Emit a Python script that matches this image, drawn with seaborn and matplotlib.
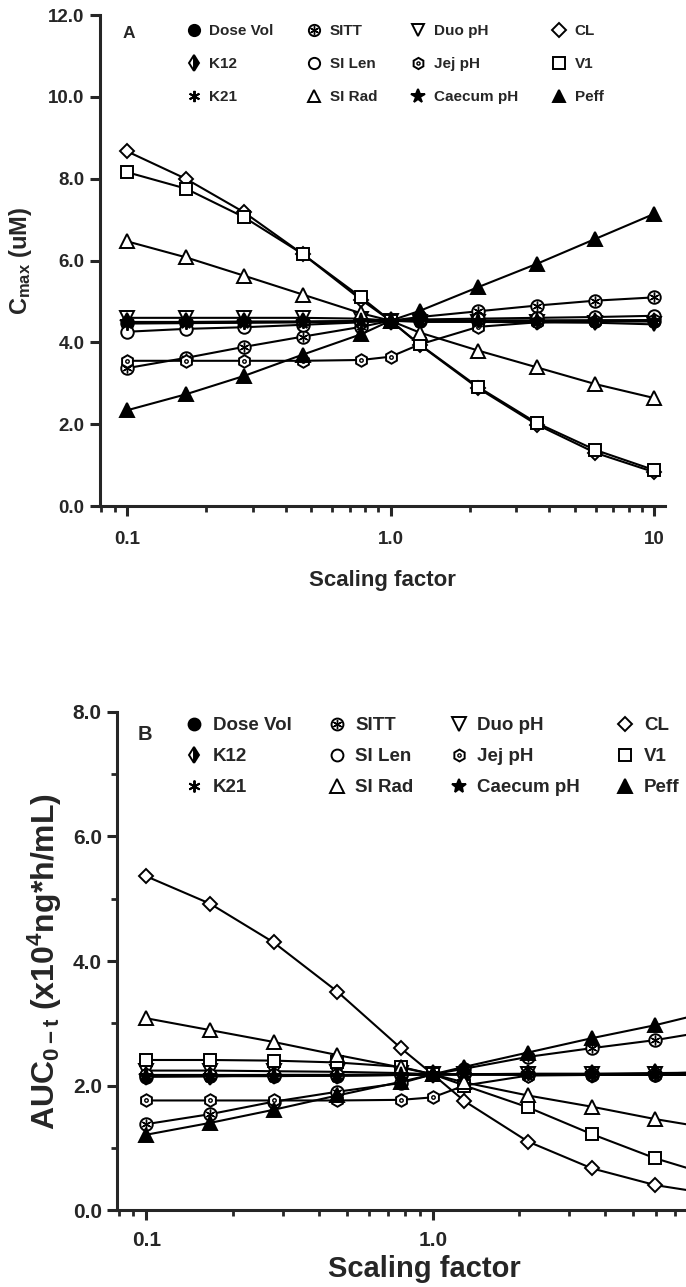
import matplotlib
matplotlib.use("Agg")
import matplotlib.pyplot as plt
from matplotlib.lines import Line2D
from matplotlib.legend_handler import HandlerTuple
from matplotlib.ticker import NullFormatter, LogLocator
import seaborn as sns

# scaling factors used in the sensitivity analysis
x = [0.1, 0.167, 0.278, 0.464, 0.774, 1.0, 1.29, 2.15, 3.59, 5.99, 10.0]

# panel A - Cmax (uM)
cmax_dose_vol = [4.48, 4.48, 4.49, 4.50, 4.51, 4.53, 4.53, 4.53, 4.53, 4.53, 4.53]
cmax_sitt = [3.37, 3.62, 3.89, 4.14, 4.38, 4.53, 4.62, 4.76, 4.90, 5.02, 5.10]
cmax_duo_ph = [4.60, 4.60, 4.60, 4.60, 4.58, 4.53, 4.50, 4.50, 4.49, 4.48, 4.44]
cmax_cl = [8.67, 8.00, 7.18, 6.16, 5.04, 4.53, 3.94, 2.88, 1.99, 1.30, 0.83]
cmax_k12 = [4.50, 4.50, 4.51, 4.51, 4.52, 4.53, 4.53, 4.53, 4.53, 4.54, 4.54]
cmax_si_len = [4.26, 4.33, 4.37, 4.43, 4.49, 4.53, 4.56, 4.58, 4.60, 4.62, 4.65]
cmax_jej_ph = [3.55, 3.55, 3.55, 3.55, 3.57, 3.65, 3.95, 4.38, 4.49, 4.52, 4.55]
cmax_v1 = [8.16, 7.76, 7.06, 6.16, 5.10, 4.53, 3.95, 2.91, 2.03, 1.37, 0.88]
cmax_k21 = [4.46, 4.47, 4.48, 4.49, 4.51, 4.53, 4.53, 4.52, 4.52, 4.51, 4.51]
cmax_si_rad = [6.47, 6.08, 5.63, 5.17, 4.71, 4.53, 4.24, 3.80, 3.39, 2.98, 2.64]
cmax_caecum_ph = [4.49, 4.49, 4.50, 4.50, 4.52, 4.53, 4.53, 4.53, 4.53, 4.53, 4.53]
cmax_peff = [2.34, 2.73, 3.18, 3.70, 4.20, 4.53, 4.77, 5.35, 5.92, 6.53, 7.14]

# panel B - AUC0-t (x10^4 ng*h/mL)
auc_dose_vol = [2.14, 2.15, 2.15, 2.16, 2.17, 2.18, 2.18, 2.17, 2.17, 2.17, 2.17]
auc_sitt = [1.38, 1.54, 1.74, 1.90, 2.04, 2.18, 2.27, 2.46, 2.60, 2.73, 2.90]
auc_duo_ph = [2.24, 2.24, 2.23, 2.22, 2.20, 2.18, 2.18, 2.18, 2.18, 2.18, 2.19]
auc_cl = [5.36, 4.92, 4.30, 3.51, 2.60, 2.18, 1.75, 1.10, 0.67, 0.40, 0.24]
auc_k12 = [2.16, 2.16, 2.17, 2.17, 2.17, 2.18, 2.18, 2.19, 2.19, 2.20, 2.21]
auc_si_len = [2.17, 2.17, 2.17, 2.17, 2.18, 2.18, 2.18, 2.18, 2.18, 2.19, 2.22]
auc_jej_ph = [1.76, 1.76, 1.76, 1.76, 1.77, 1.81, 2.00, 2.16, 2.17, 2.17, 2.17]
auc_v1 = [2.41, 2.41, 2.40, 2.37, 2.30, 2.18, 2.00, 1.65, 1.22, 0.83, 0.52]
auc_k21 = [2.15, 2.15, 2.16, 2.16, 2.17, 2.18, 2.18, 2.18, 2.18, 2.18, 2.18]
auc_si_rad = [3.08, 2.89, 2.70, 2.49, 2.29, 2.18, 2.05, 1.84, 1.66, 1.46, 1.29]
auc_caecum_ph = [2.15, 2.15, 2.16, 2.16, 2.17, 2.18, 2.18, 2.18, 2.18, 2.18, 2.18]
auc_peff = [1.21, 1.40, 1.61, 1.84, 2.06, 2.18, 2.30, 2.53, 2.76, 2.97, 3.22]

names = ['Dose Vol', 'SITT', 'Duo pH', 'CL', 'K12', 'SI Len', 'Jej pH', 'V1',
         'K21', 'SI Rad', 'Caecum pH', 'Peff']
cmax = [cmax_dose_vol, cmax_sitt, cmax_duo_ph, cmax_cl, cmax_k12, cmax_si_len,
        cmax_jej_ph, cmax_v1, cmax_k21, cmax_si_rad, cmax_caecum_ph, cmax_peff]
auc = [auc_dose_vol, auc_sitt, auc_duo_ph, auc_cl, auc_k12, auc_si_len,
       auc_jej_ph, auc_v1, auc_k21, auc_si_rad, auc_caecum_ph, auc_peff]

# marker look of each series (Prism style)
styles = {
    'Dose Vol': dict(marker='o', mfc='k', ms=9),
    'SITT': dict(marker='o', mfc='white', ms=9, inner=((6, 2, 0), 7)),
    'Duo pH': dict(marker='v', mfc='white', ms=10),
    'CL': dict(marker='D', mfc='white', ms=7.5),
    'K12': dict(marker='d', mfc='k', ms=9, fillstyle='right', markerfacecoloralt='white'),
    'SI Len': dict(marker='o', mfc='white', ms=9),
    'Jej pH': dict(marker='h', mfc='white', ms=9, inner=('o', 2.5)),
    'V1': dict(marker='s', mfc='white', ms=9),
    'K21': dict(marker=(6, 2, 0), mfc='k', ms=9),
    'SI Rad': dict(marker='^', mfc='white', ms=10),
    'Caecum pH': dict(marker='*', mfc='k', ms=11),
    'Peff': dict(marker='^', mfc='k', ms=10),
}

sns.set_style("ticks")
plt.rcParams['font.family'] = ['Liberation Sans', 'DejaVu Sans']
plt.rcParams['font.weight'] = 'bold'
plt.rcParams['axes.labelweight'] = 'bold'
plt.rcParams['mathtext.fontset'] = 'custom'
plt.rcParams['mathtext.rm'] = 'Liberation Sans:bold'
plt.rcParams['mathtext.it'] = 'Liberation Sans:bold'
plt.rcParams['mathtext.bf'] = 'Liberation Sans:bold'
plt.rcParams['mathtext.default'] = 'rm'

fig = plt.figure(figsize=(6.86, 12.87), dpi=100)
ax1 = fig.add_axes([0.1458, 0.6068, 0.8236, 0.3815])
ax2 = fig.add_axes([0.1706, 0.0598, 0.895, 0.387])


def draw(ax, data):
    for name, vals in zip(names, data):
        st = dict(styles[name])
        inner = st.pop('inner', None)
        sns.lineplot(x=x, y=vals, ax=ax, color='k', lw=1.5, errorbar=None,
                     mec='k', mew=1.4, **st)
        if inner is not None:
            sns.lineplot(x=x, y=vals, ax=ax, color='k', ls='none', errorbar=None,
                         marker=inner[0], ms=inner[1], mec='k', mfc='white', mew=1.0)


def handles_for(scale=1.0):
    hs = []
    for name in names:
        st = dict(styles[name])
        inner = st.pop('inner', None)
        st['ms'] = st['ms'] * scale
        h = Line2D([], [], ls='none', color='k', mec='k', mew=1.4, **st)
        if inner is not None:
            h2 = Line2D([], [], ls='none', color='k', marker=inner[0],
                        ms=inner[1] * scale, mec='k', mfc='white', mew=1.0)
            h = (h, h2)
        hs.append(h)
    return hs


def style_axes(ax, ymax, ystep, minor_y, tsize, xlabels, xpad):
    ax.set_xscale('log')
    ax.set_xlim(0.079, 11.0)
    ax.set_ylim(0, ymax)
    ax.set_xticks([0.1, 1.0, 10.0], labels=xlabels)
    ax.xaxis.set_minor_locator(LogLocator(base=10, subs=(2, 3, 4, 5, 6, 7, 8, 9)))
    ax.xaxis.set_minor_formatter(NullFormatter())
    yt = [i * ystep for i in range(int(round(ymax / ystep)) + 1)]
    ax.set_yticks(yt, labels=['%.1f' % v for v in yt])
    if minor_y:
        ax.set_yticks([v + ystep / 2 for v in yt[:-1]], minor=True)
    sns.despine(ax=ax)
    for s in ['left', 'bottom']:
        ax.spines[s].set_linewidth(2.2)
    ax.tick_params(which='major', direction='out', length=7, width=2.2,
                   labelsize=tsize, pad=4)
    ax.tick_params(axis='x', which='major', pad=xpad)
    ax.tick_params(which='minor', direction='out', length=4, width=2)


order = [0, 4, 8, 1, 5, 9, 2, 6, 10, 3, 7, 11]

# ---- panel A
draw(ax1, cmax)
style_axes(ax1, 12, 2, False, 13.5, ['0.1', '1.0', '10'], 11)
ax1.set_xlabel('Scaling factor', fontsize=16, labelpad=16)
ax1.set_ylabel('$C_{max}$ (uM)', fontsize=17, labelpad=10)
ax1.text(0.04, 0.962, 'A', transform=ax1.transAxes, fontsize=12.5,
         fontweight='bold', va='center', ha='left')

h1 = handles_for(0.9)
ax1.legend([h1[i] for i in order], [names[i] for i in order], ncol=4,
           frameon=False, loc='upper left', bbox_to_anchor=(0.152, 0.982),
           borderaxespad=0, borderpad=0, fontsize=11, handlelength=1.0,
           handletextpad=0.5, columnspacing=2.2, labelspacing=1.25,
           handler_map={tuple: HandlerTuple(ndivide=1)})

# ---- panel B
draw(ax2, auc)
style_axes(ax2, 8, 2, True, 15, ['0.1', '1.0', ''], 8)
ax2.set_xlabel('Scaling factor', fontsize=21, labelpad=4)
ax2.set_ylabel('AUC$_{0-t}$ (x10$^{4}$ng*h/mL)', fontsize=23, labelpad=6)
ax2.text(0.034, 0.955, 'B', transform=ax2.transAxes, fontsize=14.5,
         fontweight='bold', va='center', ha='left')

h2 = handles_for(0.95)
ax2.legend([h2[i] for i in order], [names[i] for i in order], ncol=4,
           frameon=False, loc='upper left', bbox_to_anchor=(0.11, 0.99),
           borderaxespad=0, borderpad=0, fontsize=13.5, handlelength=1.0,
           handletextpad=0.5, columnspacing=1.9, labelspacing=0.75,
           handler_map={tuple: HandlerTuple(ndivide=1)})

fig.savefig('out.png', dpi=100)
